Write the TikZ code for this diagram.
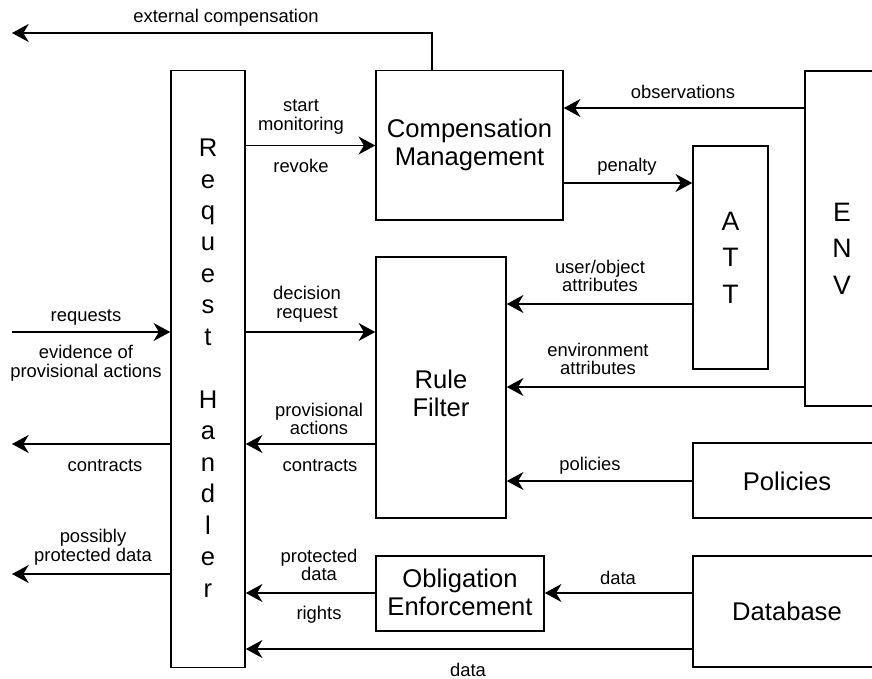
\documentclass[tikz,border=0pt]{standalone}
\usepackage{fontspec}
\setmainfont{Liberation Sans}
\usetikzlibrary{arrows.meta,fit}
\begin{document}
\begin{tikzpicture}[x=0.75pt,y=-0.75pt,
  box/.style={draw, line width=1.15pt, inner sep=0pt, align=center, font=\fontsize{19.2}{21}\selectfont},
  btext/.style={inner sep=0pt, align=center},
  lbl/.style={inner sep=0pt, align=center, font=\fontsize{13.8}{13.9}\selectfont},
  arr/.style={line width=1.15pt, -{Stealth[length=12.5pt,width=13.5pt,inset=4pt]}}]
\useasboundingbox (0,0) rectangle (872,679);
\clip (0,0) rectangle (872,679);
% boxes
\node[box, fit={(171,70.5) (245,667.5)}] (RH) {};
\node[btext, font=\fontsize{19.2}{23.6}\selectfont] (RHtext) at (208,368) {R\\e\\q\\u\\e\\s\\t\\[23.6pt]H\\a\\n\\d\\l\\e\\r};
\node[box, fit={(376,70.5) (563,220)}] (CM) {};
\node[btext, font=\fontsize{19.2}{21}\selectfont] (CMtext) at (469.5,145) {Compensation\\Management};
\node[box, fit={(805,71) (881,406)}] (ENV) {};
\node[btext, font=\fontsize{20}{27.5}\selectfont] (ENVtext) at (842,248.5) {E\\N\\V};
\node[box, fit={(693,146) (768,369)}] (ATT) {};
\node[btext, font=\fontsize{20}{27.5}\selectfont] (ATTtext) at (730.5,257.5) {A\\T\\T};
\node[box, fit={(376,257) (506,518)}] (RF) {};
\node[btext, font=\fontsize{19.2}{21}\selectfont] (RFtext) at (441,393) {Rule\\Filter};
\node[box, fit={(693,443) (881,518)}] (POL) {};
\node[btext, font=\fontsize{19.2}{21}\selectfont] (POLtext) at (787,481.5) {Policies};
\node[box, fit={(376,556) (544,631)}] (OE) {};
\node[btext, font=\fontsize{19.2}{21}\selectfont] (OEtext) at (460,592) {Obligation\\Enforcement};
\node[box, fit={(693,556) (881,667)}] (DB) {};
\node[btext, font=\fontsize{19.2}{21}\selectfont] (DBtext) at (787,611.5) {Database};
% free ends
\coordinate (extL) at (12,33);
\coordinate (inL) at (12,332);
\coordinate (outC) at (12,444);
\coordinate (outD) at (12,574);
% connectors
\draw[arr] (CM.north west -| 432,0) |- (extL);
\draw[arr] (RH.east |- 0,145.5) -- (CM.west |- 0,145.5);
\draw[arr] (ENV.west |- 0,108) -- (CM.east |- 0,108);
\draw[arr] (CM.east |- 0,183) -- (ATT.west |- 0,183);
\draw[arr] (ATT.west |- 0,304) -- (RF.east |- 0,304);
\draw[arr] (ENV.west |- 0,387) -- (RF.east |- 0,387);
\draw[arr] (POL.west |- 0,481) -- (RF.east |- 0,481);
\draw[arr] (DB.west |- 0,593) -- (OE.east |- 0,593);
\draw[arr] (DB.west |- 0,649) -- (RH.east |- 0,649);
\draw[arr] (RH.east |- 0,332) -- (RF.west |- 0,332);
\draw[arr] (RF.west |- 0,444) -- (RH.east |- 0,444);
\draw[arr] (OE.west |- 0,593) -- (RH.east |- 0,593);
\draw[arr] (inL) -- (RH.west |- 0,332);
\draw[arr] (RH.west |- 0,444) -- (outC);
\draw[arr] (RH.west |- 0,574) -- (outD);
% labels
\node[lbl] (l1) at (226,18) {external compensation};
\node[lbl] (l2) at (301,117) {start\\monitoring};
\node[lbl] (l3) at (301,166) {revoke};
\node[lbl] (l4) at (683,92) {observations};
\node[lbl] (l5) at (627,167) {penalty};
\node[lbl] (l6) at (600,276) {user/object\\attributes};
\node[lbl] (l7) at (598,359) {environment\\attributes};
\node[lbl] (l8) at (307,304) {decision\\request};
\node[lbl] (l9) at (86,317) {requests};
\node[lbl] (l10) at (86,363) {evidence of\\provisional actions};
\node[lbl] (l11) at (319,419) {provisional\\actions};
\node[lbl] (l12) at (320,466) {contracts};
\node[lbl] (l13) at (105,466) {contracts};
\node[lbl] (l14) at (93,547) {possibly\\protected data};
\node[lbl] (l15) at (319,565) {protected\\data};
\node[lbl] (l16) at (319,615) {rights};
\node[lbl] (l17) at (590,466) {policies};
\node[lbl] (l18) at (618,578) {data};
\node[lbl] (l19) at (468,670) {data};
\end{tikzpicture}
\end{document}
